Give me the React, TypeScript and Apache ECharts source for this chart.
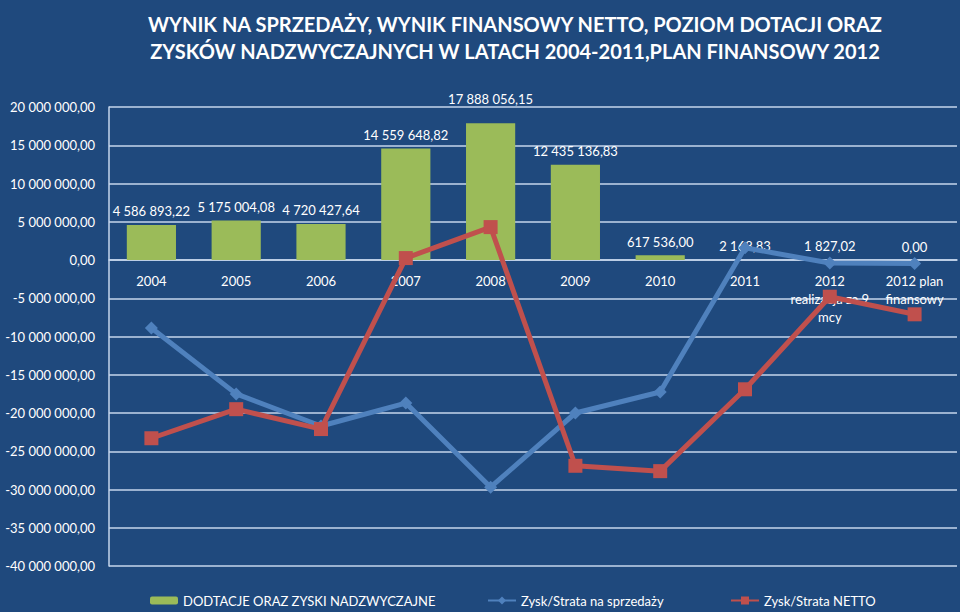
import React, { useEffect, useRef } from "react";
import * as echarts from "echarts";

const categories = [
  "2004", "2005", "2006", "2007", "2008", "2009", "2010", "2011",
  "2012\nrealizacja za 9\nmcy", "2012 plan\nfinansowy",
];
const dotacje = [
  4586893.22, 5175004.08, 4720427.64, 14559648.82, 17888056.15,
  12435136.83, 617536.0, 2168.83, 1827.02, 0.0,
];
const sprzedaz = [
  -8900000, -17500000, -21700000, -18700000, -29700000,
  -20000000, -17250000, 1600000, -400000, -450000,
];
const netto = [
  -23300000, -19500000, -22100000, 250000, 4300000,
  -26900000, -27600000, -16900000, -4800000, -7100000,
];
const seriesNames = [
  "DODTACJE ORAZ ZYSKI NADZWYCZAJNE",
  "Zysk/Strata na sprzedaży",
  "Zysk/Strata NETTO",
];

const FONT = "Lato, 'Open Sans', sans-serif";

function fmt(v: number): string {
  const neg = v < 0;
  const a = Math.abs(v);
  const fixed = a.toFixed(2);
  const [intPart, dec] = fixed.split(".");
  const grouped = intPart.replace(/\B(?=(\d{3})+(?!\d))/g, " ");
  return (neg ? "-" : "") + grouped + "," + dec;
}

export default function App() {
  const ref = useRef<HTMLDivElement>(null);
  useEffect(() => {
    if (!ref.current) return;
    const chart = echarts.init(ref.current, undefined, { renderer: "svg" });
    const grid = "#C6D6EC";
    const legendText = { color: "#FFFFFF", fontSize: 13, fontFamily: FONT };
    chart.setOption({
      animation: false,
      backgroundColor: "#1F497D",
      textStyle: { fontFamily: FONT },
      title: {
        text: "WYNIK NA SPRZEDAŻY, WYNIK FINANSOWY NETTO, POZIOM DOTACJI ORAZ\nZYSKÓW NADZWYCZAJNYCH W LATACH 2004-2011,PLAN FINANSOWY 2012",
        left: 510,
        textAlign: "center",
        top: 5,
        textStyle: {
          color: "#FFFFFF",
          fontSize: 20,
          fontWeight: "bold",
          lineHeight: 27,
          fontFamily: "'Liberation Sans Narrow', " + FONT,
        },
      },
      legend: [
        {
          data: [seriesNames[0]],
          left: 150,
          top: 594,
          padding: 0,
          itemWidth: 28,
          itemHeight: 8,
          itemGap: 0,
          textStyle: legendText,
        },
        {
          data: [seriesNames[1]],
          left: 487,
          top: 594,
          padding: 0,
          itemWidth: 28,
          itemHeight: 10,
          textStyle: legendText,
        },
        {
          data: [seriesNames[2]],
          left: 730,
          top: 594,
          padding: 0,
          itemWidth: 28,
          itemHeight: 10,
          textStyle: legendText,
        },
      ],
      grid: { left: 109, right: 3, top: 107, bottom: 46, containLabel: false, outerBoundsMode: "none" },
      xAxis: {
        type: "category",
        data: categories,
        offset: -306,
        axisLine: { onZero: false, lineStyle: { color: grid, width: 1.5 } },
        axisTick: { show: false },
        axisLabel: {
          color: "#FFFFFF",
          fontSize: 13,
          margin: 12,
          lineHeight: 18,
          interval: 0,
          fontFamily: FONT,
        },
      },
      yAxis: {
        type: "value",
        min: -40000000,
        max: 20000000,
        interval: 5000000,
        axisLine: { show: true, onZero: false, lineStyle: { color: grid, width: 1.5 } },
        axisTick: { show: false },
        splitLine: { lineStyle: { color: grid, width: 1.5 } },
        axisLabel: {
          color: "#FFFFFF",
          fontSize: 13,
          margin: 14,
          formatter: (v: number) => fmt(v),
          fontFamily: FONT,
        },
      },
      series: [
        {
          name: seriesNames[0],
          type: "bar",
          data: dotacje.map((v, i) =>
            i === 4
              ? { value: v, label: { distance: 18 } }
              : { value: v }
          ),
          barWidth: "58%",
          itemStyle: { color: "#9BBB59" },
          label: {
            show: true,
            position: "top",
            distance: 7,
            color: "#FFFFFF",
            fontSize: 13,
            fontFamily: FONT,
            formatter: (p: any) => fmt(p.value),
          },
          z: 1,
        },
        {
          name: seriesNames[1],
          type: "line",
          data: sprzedaz,
          symbol: "diamond",
          symbolSize: 13,
          lineStyle: { color: "#4F81BD", width: 5 },
          itemStyle: { color: "#4F81BD" },
          z: 3,
        },
        {
          name: seriesNames[2],
          type: "line",
          data: netto,
          symbol: "rect",
          symbolSize: 14,
          lineStyle: { color: "#C0504D", width: 5 },
          itemStyle: { color: "#C0504D" },
          z: 4,
        },
      ],
    });
    return () => chart.dispose();
  }, []);
  return <div ref={ref} style={{ width: 960, height: 612, position: "fixed", left: 0, top: 0 }} />;
}
